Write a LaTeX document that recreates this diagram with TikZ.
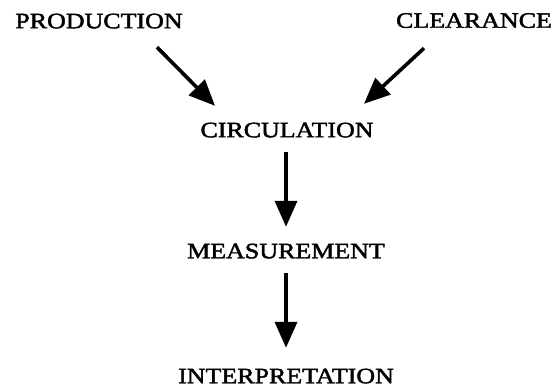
\documentclass[tikz,border=0pt]{standalone}
\usepackage{fontspec}
\setmainfont[FakeStretch=1.18,FakeBold=2]{Liberation Serif}
\usetikzlibrary{arrows.meta}
\tikzset{
  lbl/.style={inner sep=0pt, text height=14.5pt, text depth=0pt, anchor=center,
    font=\fontsize{22pt}{23pt}\selectfont},
  arr/.style={line width=3.6pt, -{Triangle[length=26pt,width=22pt]}}
}
\begin{document}
\begin{tikzpicture}[x=1pt,y=-1pt]
\useasboundingbox (0,0) rectangle (556,387);
\node[lbl] (prod) at (99,21) {PRODUCTION};
\node[lbl] (clear) at (474,20.5) {CLEARANCE};
\node[lbl] (circ) at (287,130) {CIRCULATION};
\node[lbl] (meas) at (286,251) {MEASUREMENT};
\node[lbl] (interp) at (286,376) {INTERPRETATION};
\draw[arr] ([shift={(58,18.75)}]prod.south) -- ([shift={(-72,-16.75)}]circ.north);
\draw[arr] ([shift={(-50,20.25)}]clear.south) -- ([shift={(77,-18.75)}]circ.north);
\draw[arr] ([shift={(-1,14.75)}]circ.south) -- ([shift={(0,-16.75)}]meas.north);
\draw[arr] ([shift={(0,14.75)}]meas.south) -- ([shift={(0,-20.75)}]interp.north);
\end{tikzpicture}
\end{document}
